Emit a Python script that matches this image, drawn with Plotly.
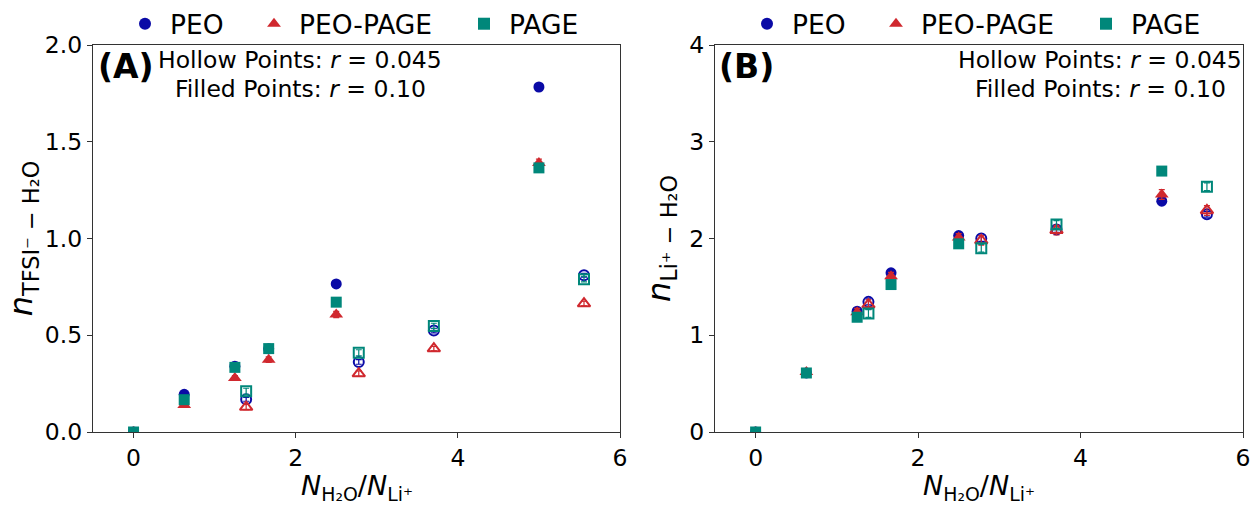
import plotly.graph_objects as go

# Water-to-lithium ratios for the two salt concentrations
x_filled = [0.0, 0.625, 1.25, 1.667, 2.5, 5.0]      # r = 0.10
x_hollow = [1.389, 2.778, 3.704, 5.556]             # r = 0.045

series = ["PEO", "PEO-PAGE", "PAGE"]

# Panel A: TFSI- / water coordination
tfsi_filled = {
    "PEO":      [0.0, 0.195, 0.34, 0.43, 0.765, 1.783],
    "PEO-PAGE": [0.0, 0.14, 0.279, 0.374, 0.607, 1.39],
    "PAGE":     [0.0, 0.167, 0.334, 0.431, 0.671, 1.365],
}
tfsi_filled_err = {
    "PEO":      [0.002, 0.008, 0.010, 0.010, 0.012, 0.012],
    "PEO-PAGE": [0.002, 0.010, 0.012, 0.014, 0.016, 0.020],
    "PAGE":     [0.002, 0.008, 0.010, 0.010, 0.012, 0.012],
}
tfsi_hollow = {
    "PEO":      [0.169, 0.362, 0.524, 0.810],
    "PEO-PAGE": [0.129, 0.302, 0.431, 0.664],
    "PAGE":     [0.210, 0.409, 0.548, 0.790],
}
tfsi_hollow_err = {
    "PEO":      [0.010, 0.012, 0.012, 0.010],
    "PEO-PAGE": [0.014, 0.014, 0.012, 0.012],
    "PAGE":     [0.016, 0.016, 0.014, 0.014],
}

# Panel B: Li+ / water coordination
li_filled = {
    "PEO":      [0.0, 0.61, 1.248, 1.645, 2.03, 2.386],
    "PEO-PAGE": [0.0, 0.62, 1.238, 1.61, 2.01, 2.455],
    "PAGE":     [0.0, 0.61, 1.186, 1.524, 1.945, 2.697],
}
li_filled_err = {
    "PEO":      [0.005, 0.02, 0.03, 0.03, 0.03, 0.03],
    "PEO-PAGE": [0.005, 0.03, 0.04, 0.04, 0.04, 0.05],
    "PAGE":     [0.005, 0.02, 0.03, 0.03, 0.03, 0.03],
}
li_hollow = {
    "PEO":      [1.345, 2.0, 2.093, 2.25],
    "PEO-PAGE": [1.317, 1.98, 2.086, 2.29],
    "PAGE":     [1.224, 1.90, 2.145, 2.534],
}
li_hollow_err = {
    "PEO":      [0.03, 0.03, 0.03, 0.03],
    "PEO-PAGE": [0.05, 0.05, 0.05, 0.05],
    "PAGE":     [0.04, 0.04, 0.04, 0.04],
}

x_ticks = [0, 2, 4, 6]
ya_ticks = [0.0, 0.5, 1.0, 1.5, 2.0]
ya_ticklabels = ["0.0", "0.5", "1.0", "1.5", "2.0"]
yb_ticks = [0, 1, 2, 3, 4]

colors = {"PEO": "#0a0aa6", "PEO-PAGE": "#d0282e", "PAGE": "#00877a"}
symbols = {"PEO": "circle", "PEO-PAGE": "triangle-up", "PAGE": "square"}
sizes = {"PEO": 11, "PEO-PAGE": 12, "PAGE": 11}

FONT = "DejaVu Sans"
W, H = 1256, 505

# Left edge (px) of each legend entry's label, per panel
legend_text_left = {"PEO": 170, "PEO-PAGE": 299, "PAGE": 509}
panel_shift = 622

fig = go.Figure()


def add_panel(xa, ya, legend_ids, filled, filled_err, hollow, hollow_err):
    for name, lg in zip(series, legend_ids):
        c = colors[name]
        fig.add_trace(go.Scatter(
            x=x_filled, y=filled[name], mode="markers", name=name,
            xaxis=xa, yaxis=ya, legend=lg, showlegend=True,
            marker=dict(symbol=symbols[name], size=sizes[name], color=c,
                        line=dict(width=0)),
            error_y=dict(type="data", array=filled_err[name], color=c,
                         thickness=1.2, width=3),
        ))
        fig.add_trace(go.Scatter(
            x=x_hollow, y=hollow[name], mode="markers", name=name,
            xaxis=xa, yaxis=ya, legend=lg, showlegend=False,
            marker=dict(symbol=symbols[name] + "-open", size=sizes[name] - 1,
                        color=c, line=dict(width=2, color=c)),
            error_y=dict(type="data", array=hollow_err[name], color=c,
                         thickness=1.2, width=3),
        ))


add_panel("x", "y", ["legend", "legend2", "legend3"],
          tfsi_filled, tfsi_filled_err, tfsi_hollow, tfsi_hollow_err)
add_panel("x2", "y2", ["legend4", "legend5", "legend6"],
          li_filled, li_filled_err, li_hollow, li_hollow_err)

ydom = [73 / H, 460 / H]
xdom_a = [93 / W, 620 / W]
xdom_b = [715 / W, 1243 / W]
axis_common = dict(
    showline=True, mirror=True, linecolor="#333333", linewidth=1.3,
    ticks="outside", ticklen=5, tickwidth=1.2, tickcolor="#333333",
    showgrid=False, zeroline=False,
    tickfont=dict(family=FONT, size=23.5, color="black"),
    automargin=False,
)

fig.update_layout(
    width=W, height=H,
    margin=dict(l=0, r=0, t=0, b=0),
    paper_bgcolor="white", plot_bgcolor="white",
    font=dict(family=FONT, color="black"),
    xaxis=dict(domain=xdom_a, range=[-0.5, 6], tickvals=x_ticks,
               anchor="y", **axis_common),
    yaxis=dict(domain=ydom, range=[0, 2], tickvals=ya_ticks, ticktext=ya_ticklabels,
               title=dict(text="<i>n</i><sub>TFSI⁻ − H₂O</sub>", font=dict(size=32), standoff=2),
               anchor="x", **axis_common),
    xaxis2=dict(domain=xdom_b, range=[-0.5, 6], tickvals=x_ticks,
                anchor="y2", **axis_common),
    yaxis2=dict(domain=ydom, range=[0, 4], tickvals=yb_ticks,
                title=dict(text="<i>n</i><sub>Li⁺ − H₂O</sub>", font=dict(size=32), standoff=8),
                anchor="x2", **axis_common),
)

# One single-entry legend per series and panel, placed above each panel
legend_ids = ["legend", "legend2", "legend3", "legend4", "legend5", "legend6"]
for i, lg in enumerate(legend_ids):
    name = series[i % 3]
    left = legend_text_left[name] + (panel_shift if i >= 3 else 0) - 50
    fig.update_layout({lg: dict(
        orientation="h", x=left / W, xanchor="left", y=1.0, yanchor="top",
        font=dict(family=FONT, size=26.5), bgcolor="rgba(0,0,0,0)",
        itemsizing="constant", itemwidth=40, borderwidth=0,
    )})

# x-axis titles, set just below the tick labels of each panel
xtitle = "<i>N</i><sub>H₂O</sub>/<i>N</i><sub>Li⁺</sub>"
for dom in (xdom_a, xdom_b):
    fig.add_annotation(x=(dom[0] + dom[1]) / 2, y=1 - 467.5 / H, xref="paper", yref="paper",
                       text=xtitle, showarrow=False, xanchor="center", yanchor="top",
                       font=dict(family=FONT, size=27, color="black"))

notes = [
    (96, 66, "<b>(A)</b>", 33, "left"),
    (300, 60, "Hollow Points: <i>r</i> = 0.045", 23.5, "center"),
    (300, 89, "Filled Points: <i>r</i> = 0.10", 23.5, "center"),
    (717, 66, "<b>(B)</b>", 33, "left"),
    (1100, 60, "Hollow Points: <i>r</i> = 0.045", 23.5, "center"),
    (1100, 89, "Filled Points: <i>r</i> = 0.10", 23.5, "center"),
]
for px, py, txt, fs, anchor in notes:
    fig.add_annotation(x=px / W, y=1 - py / H, xref="paper", yref="paper",
                       text=txt, showarrow=False, xanchor=anchor, yanchor="middle",
                       font=dict(family=FONT, size=fs, color="black"))

fig.write_html("out.html")
